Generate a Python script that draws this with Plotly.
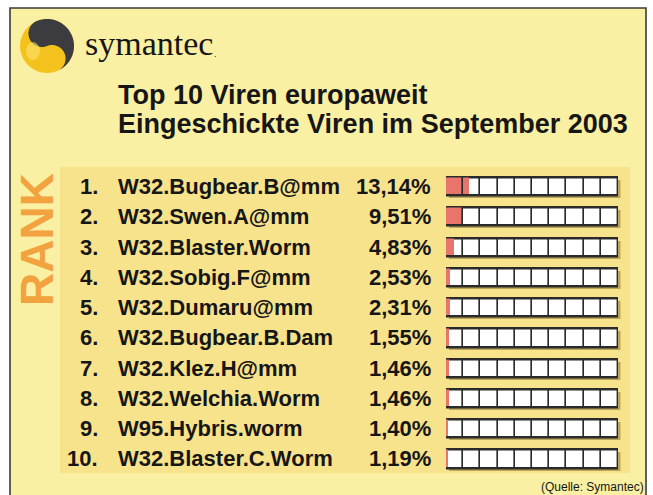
import numpy as np
import plotly.graph_objects as go

# ---------------- data ----------------
ranks = ["1.", "2.", "3.", "4.", "5.", "6.", "7.", "8.", "9.", "10."]
viruses = ["W32.Bugbear.B@mm", "W32.Swen.A@mm", "W32.Blaster.Worm", "W32.Sobig.F@mm",
           "W32.Dumaru@mm", "W32.Bugbear.B.Dam", "W32.Klez.H@mm", "W32.Welchia.Worm",
           "W95.Hybris.worm", "W32.Blaster.C.Worm"]
shares = [13.14, 9.51, 4.83, 2.53, 2.31, 1.55, 1.46, 1.46, 1.40, 1.19]
share_labels = ["13,14%", "9,51%", "4,83%", "2,53%", "2,31%", "1,55%", "1,46%", "1,46%", "1,40%", "1,19%"]
scale_max = 100
cell_step = 10
title_lines = ["Top 10 Viren europaweit", "Eingeschickte Viren im September 2003"]
brand = "symantec"
side_label = "RANK"
source = "(Quelle: Symantec)"

# ---------------- styling ----------------
W, H = 653, 495
OUTER = "#FAF0A3"
PANEL = "#F8E38D"
INK = "#161616"
RED = "#E8746C"
ORANGE = "#F2A23E"
SANS = "Liberation Sans, Arial, sans-serif"
SERIF = "Liberation Serif, Times New Roman, serif"

bx0, bx1 = 446, 618
row_top, row_bot = 171.4, 474.1
shadow = 2.5


def fx(px):
    return px / W


def fy(py):
    return (H - py) / H


n_cells = int(scale_max / cell_step)
cell_y = [v for v in viruses for _ in range(n_cells)]
cell_base = [i * cell_step for _ in viruses for i in range(n_cells)]
cell_x = [cell_step] * len(cell_y)

fig = go.Figure()

# shadow of the boxes (subplot x/y, drawn first)
fig.add_trace(go.Bar(y=viruses, x=[scale_max] * len(viruses), orientation="h",
                     xaxis="x", yaxis="y", width=0.6,
                     marker=dict(color="rgba(110,90,30,0.45)", line=dict(width=0)),
                     hoverinfo="skip", showlegend=False))
# white box
fig.add_trace(go.Bar(y=viruses, x=[scale_max] * len(viruses), orientation="h", width=0.6,
                     xaxis="x2", yaxis="y2",
                     marker=dict(color="white", line=dict(color="#2a2a2a", width=2)),
                     hoverinfo="skip", showlegend=False))
# value bars
fig.add_trace(go.Bar(y=viruses, x=shares, orientation="h", width=0.6,
                     xaxis="x2", yaxis="y2",
                     marker=dict(color=RED, line=dict(width=0)),
                     showlegend=False))
# cell outlines on top
fig.add_trace(go.Bar(y=cell_y, x=cell_x, base=cell_base, orientation="h", width=0.6,
                     xaxis="x2", yaxis="y2",
                     marker=dict(color="rgba(0,0,0,0)", line=dict(color="#2a2a2a", width=1.4)),
                     hoverinfo="skip", showlegend=False))

# ---------------- decorative shapes (paper coords) ----------------
def prect(x0, y0, x1, y1, **kw):
    return dict(type="rect", xref="paper", yref="paper",
                x0=fx(x0), x1=fx(x1), y0=fy(y1), y1=fy(y0), **kw)


shapes = []
shapes.append(prect(10, 8, 646, 520, fillcolor=OUTER,
                    line=dict(color="#3a3a3a", width=1.6), layer="below"))
shapes.append(prect(60, 167, 630, 473, fillcolor=PANEL, line=dict(width=0), layer="below"))

# logo
cx, cy, R = 47, 46, 27
shapes.append(dict(type="circle", xref="paper", yref="paper",
                   x0=fx(cx - R), x1=fx(cx + R), y0=fy(cy + R), y1=fy(cy - R),
                   fillcolor="#F4C21C", line=dict(width=0)))
delta = np.deg2rad(22)
right = np.array([np.cos(delta), -np.sin(delta)])
down = np.array([np.sin(delta), np.cos(delta)])
pts = []
t = np.linspace(0, np.pi, 60)
pts += list(zip(R * np.sin(t), -R * np.cos(t)))
pts += list(zip((R / 2) * np.sin(t), R / 2 + (R / 2) * np.cos(t)))
pts += list(zip(-(R / 2) * np.sin(t), -R / 2 + (R / 2) * np.cos(t)))
path = ""
for i, (u, v) in enumerate(pts):
    p = np.array([cx, cy]) + u * right + v * down
    path += ("M" if i == 0 else "L") + f"{fx(p[0]):.5f},{fy(p[1]):.5f}"
path += "Z"
shapes.append(dict(type="path", xref="paper", yref="paper", path=path,
                   fillcolor="#3b3b40", line=dict(width=0)))
shapes.append(dict(type="circle", xref="paper", yref="paper",
                   x0=fx(cx - 21), x1=fx(cx - 7), y0=fy(cy + 14), y1=fy(cy - 4),
                   fillcolor="rgba(255,230,120,0.55)", line=dict(width=0)))

# ---------------- texts ----------------
def ptext(x, y, text, size, family=SANS, color=INK, xanchor="left", yanchor="middle", **kw):
    return dict(xref="paper", yref="paper", x=fx(x), y=fy(y), text=text, showarrow=False,
                xanchor=xanchor, yanchor=yanchor, font=dict(family=family, size=size, color=color),
                **kw)


ann = []
ann.append(ptext(83, 43, brand, 34, family=SERIF))
ann.append(ptext(212, 54, ".", 9))
ann.append(ptext(116, 95, f"<b>{title_lines[0]}</b>", 27))
ann.append(ptext(116, 124, f"<b>{title_lines[1]}</b>", 27))
ann.append(ptext(37, 240, f"<b>{side_label}</b>", 46, color=ORANGE, xanchor="center", textangle=-90))
ann.append(ptext(646, 478, source, 12, xanchor="right", yanchor="top"))

for r, name, lab in zip(ranks, viruses, share_labels):
    for x, txt, xa in [(100, r, "right"), (116, name, "left"), (433, lab, "right")]:
        ann.append(dict(xref="paper", yref="y2", x=fx(x), y=name, text=f"<b>{txt}</b>",
                        showarrow=False, xanchor=xa, yanchor="middle",
                        font=dict(family=SANS, size=22, color=INK)))

hidden = dict(visible=False, showgrid=False, zeroline=False, fixedrange=True)
fig.update_layout(
    width=W, height=H, margin=dict(l=0, r=0, t=0, b=0),
    paper_bgcolor="white", plot_bgcolor="rgba(0,0,0,0)",
    barmode="overlay", bargap=0, showlegend=False,
    xaxis=dict(domain=[fx(bx0 + shadow), fx(bx1 + shadow)], range=[0, scale_max], anchor="y", **hidden),
    yaxis=dict(domain=[fy(row_bot + shadow), fy(row_top + shadow)], categoryorder="array",
               categoryarray=viruses, autorange="reversed", anchor="x", **hidden),
    xaxis2=dict(domain=[fx(bx0), fx(bx1)], range=[0, scale_max], anchor="y2", **hidden),
    yaxis2=dict(domain=[fy(row_bot), fy(row_top)], categoryorder="array", categoryarray=viruses,
                autorange="reversed", anchor="x2", **hidden),
    shapes=shapes, annotations=ann,
)

fig.write_html("out.html", config={"displayModeBar": False},
               post_script="document.body.style.margin='0';document.body.style.overflow='hidden';")
